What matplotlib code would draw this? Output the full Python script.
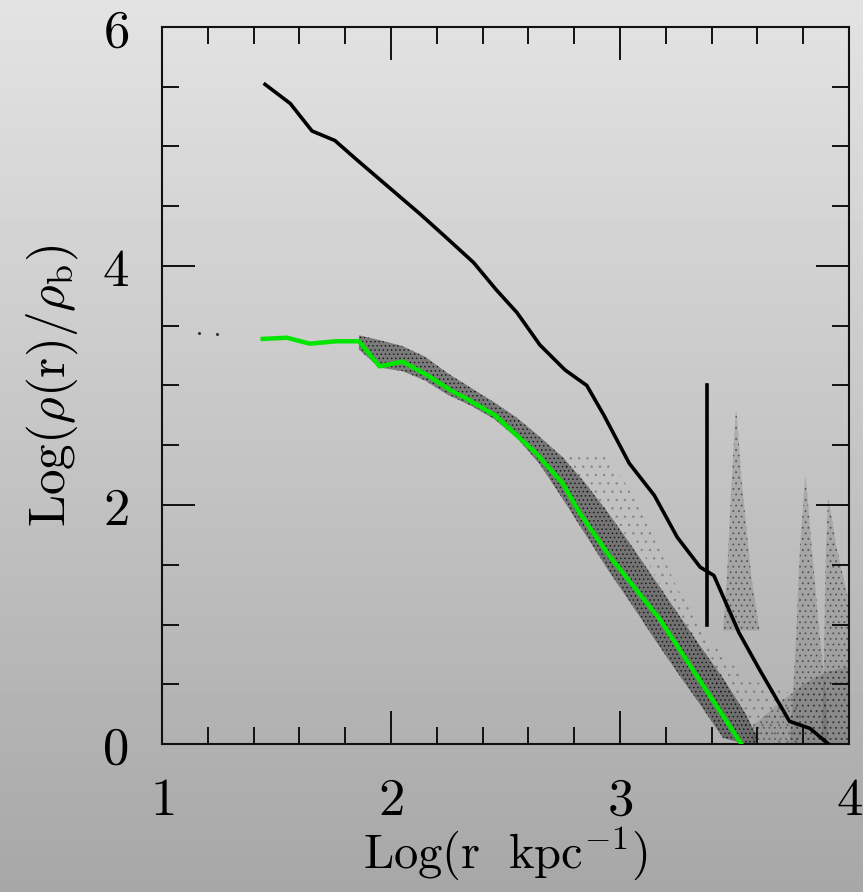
import numpy as np
import matplotlib
matplotlib.use('Agg')
import matplotlib.pyplot as plt
from matplotlib.ticker import MultipleLocator, FixedLocator, FixedFormatter

plt.rcParams['mathtext.fontset'] = 'cm'
plt.rcParams['font.family'] = ['DejaVu Serif']
plt.rcParams['hatch.linewidth'] = 0.6

# ========== data ==========
# mean density profile (black)
prof_x = [1.45, 1.56, 1.655, 1.755, 1.85, 2.13, 2.24, 2.36, 2.46, 2.55, 2.65, 2.76,
          2.855, 2.93, 3.04, 3.15, 3.25, 3.35, 3.41, 3.52, 3.61, 3.74, 3.83, 3.91]
prof_y = [5.52, 5.36, 5.13, 5.05, 4.89, 4.43, 4.24, 4.03, 3.80, 3.61, 3.34, 3.13,
          3.00, 2.75, 2.35, 2.08, 1.73, 1.48, 1.41, 0.93, 0.62, 0.19, 0.13, 0.0]

# profile of the main halo (green)
halo_x = [1.44, 1.545, 1.645, 1.76, 1.86, 1.95, 2.05, 2.155, 2.26, 2.33, 2.455,
          2.635, 2.75, 2.825, 2.955, 3.175, 3.53]
halo_y = [3.39, 3.40, 3.35, 3.37, 3.37, 3.16, 3.20, 3.09, 2.96, 2.89, 2.75,
          2.43, 2.18, 1.93, 1.57, 1.04, 0.0]

# marker for the virial radius
rvir_x = 3.38
rvir_y = [1.0, 3.0]

# particle cloud: envelope of the dense band
band_x = [1.86, 1.95, 2.05, 2.15, 2.25, 2.35, 2.45, 2.55, 2.65, 2.75, 2.85,
          2.95, 3.05, 3.15, 3.25, 3.35, 3.45, 3.55, 3.60]
band_hi = [3.42, 3.38, 3.33, 3.24, 3.10, 2.98, 2.86, 2.73, 2.57, 2.40, 2.18,
           1.93, 1.66, 1.38, 1.10, 0.82, 0.55, 0.25, 0.05]
band_lo = [3.30, 3.15, 3.12, 3.04, 2.92, 2.83, 2.72, 2.56, 2.34, 2.05, 1.75,
           1.45, 1.17, 0.88, 0.60, 0.33, 0.05, 0.0, 0.0]

# sparse particles between band and profile
sparse_x = [2.75, 2.95, 3.10, 3.25, 3.40, 3.55, 3.70, 3.80]
sparse_hi = [2.45, 2.40, 1.95, 1.30, 0.85, 0.55, 0.45, 0.40]
sparse_lo = [2.30, 1.90, 1.60, 1.05, 0.55, 0.10, 0.0, 0.0]

# subhalo spikes (y, left edge, right edge)
spk1_y = [0.95, 1.37, 2.21, 2.78]
spk1_l = [3.45, 3.466, 3.488, 3.505]
spk1_r = [3.61, 3.575, 3.531, 3.509]

spk2_y = [0.0, 0.40, 0.95, 1.65, 2.22]
spk2_l = [3.74, 3.755, 3.77, 3.786, 3.808]
spk2_r = [3.91, 3.90, 3.87, 3.837, 3.812]

spk3_y = [0.0, 0.6, 1.23, 1.65, 2.04]
spk3_l = [3.88, 3.89, 3.895, 3.90, 3.908]
spk3_r = [4.0, 4.0, 3.995, 3.945, 3.912]

# outskirts particles (bottom right)
out_x = [3.58, 3.70, 3.80, 3.90, 4.0]
out_hi = [0.15, 0.35, 0.50, 0.60, 0.65]

stray_x = [1.16, 1.24]
stray_y = [3.44, 3.43]

xticks = [1, 2, 3, 4]
yticks = [0, 2, 4, 6]
# ==========================

fig = plt.figure(figsize=(8.63, 8.92), dpi=100)

# gradient background
bg = fig.add_axes([0, 0, 1, 1])
grad = np.linspace(0.89, 0.655, 256).reshape(-1, 1)
bg.imshow(grad, cmap='gray', vmin=0, vmax=1, aspect='auto', extent=[0, 1, 0, 1])
bg.axis('off')

ax = fig.add_axes([162 / 863, 148 / 892, 687 / 863, 717 / 892])
ax.set_facecolor('none')

# particle cloud
ax.fill_between(sparse_x, sparse_lo, sparse_hi, facecolor='none', edgecolor='#404040',
                hatch='..', linewidth=0, alpha=0.35, zorder=1)
ax.fill_between(out_x, 0, out_hi, facecolor='#202020', alpha=0.15,
                edgecolor='none', zorder=1)
ax.fill_between(out_x, 0, out_hi, facecolor='none', edgecolor='#303030',
                hatch='...', linewidth=0, alpha=0.5, zorder=1)
for yy, ll, rr in [(spk1_y, spk1_l, spk1_r), (spk2_y, spk2_l, spk2_r),
                   (spk3_y, spk3_l, spk3_r)]:
    ax.fill_betweenx(yy, ll, rr, facecolor='#202020', alpha=0.15,
                     edgecolor='none', zorder=1)
    ax.fill_betweenx(yy, ll, rr, facecolor='none', edgecolor='#303030',
                     hatch='...', linewidth=0, alpha=0.6, zorder=1)
ax.fill_between(band_x, band_lo, band_hi, facecolor='#1a1a1a', alpha=0.45,
                edgecolor='none', zorder=2)
ax.fill_between(band_x, band_lo, band_hi, facecolor='none', edgecolor='black',
                hatch='....', linewidth=0, alpha=0.7, zorder=2)
ax.scatter(stray_x, stray_y, s=1.5, c='#333333', zorder=2)

# profiles
ax.plot(prof_x, prof_y, color='black', lw=2.6, zorder=4)
ax.plot(halo_x, halo_y, color='#00e600', lw=3.2, zorder=5)
ax.plot([rvir_x, rvir_x], rvir_y, color='black', lw=2.6, zorder=4)

ax.set_xlim(1, 4)
ax.set_ylim(0, 6)

ax.xaxis.set_major_locator(FixedLocator(xticks))
ax.xaxis.set_major_formatter(FixedFormatter([f'${t}$' for t in xticks]))
ax.yaxis.set_major_locator(FixedLocator(yticks))
ax.yaxis.set_major_formatter(FixedFormatter([f'${t}$' for t in yticks]))
ax.xaxis.set_minor_locator(MultipleLocator(0.2))
ax.yaxis.set_minor_locator(MultipleLocator(0.5))

ax.tick_params(which='both', direction='in', top=True, right=True, width=1.4,
               color='#111111', labelsize=38)
ax.tick_params(which='major', length=24)
ax.tick_params(which='minor', length=12)
ax.tick_params(axis='x', which='major', pad=22)
ax.tick_params(axis='y', which='major', pad=24)
for sp in ax.spines.values():
    sp.set_linewidth(1.5)
    sp.set_color('#111111')

ax.set_xlabel(r'$\mathrm{Log(r\ \ kpc^{-1})}$', fontsize=35)
ax.xaxis.set_label_coords(0.5, -0.112)
ax.set_ylabel(r'$\mathrm{Log(}\rho\mathrm{(r)/}\rho_\mathrm{b}\mathrm{)}$',
              fontsize=37, labelpad=16)

fig.savefig('out.png', dpi=100)
